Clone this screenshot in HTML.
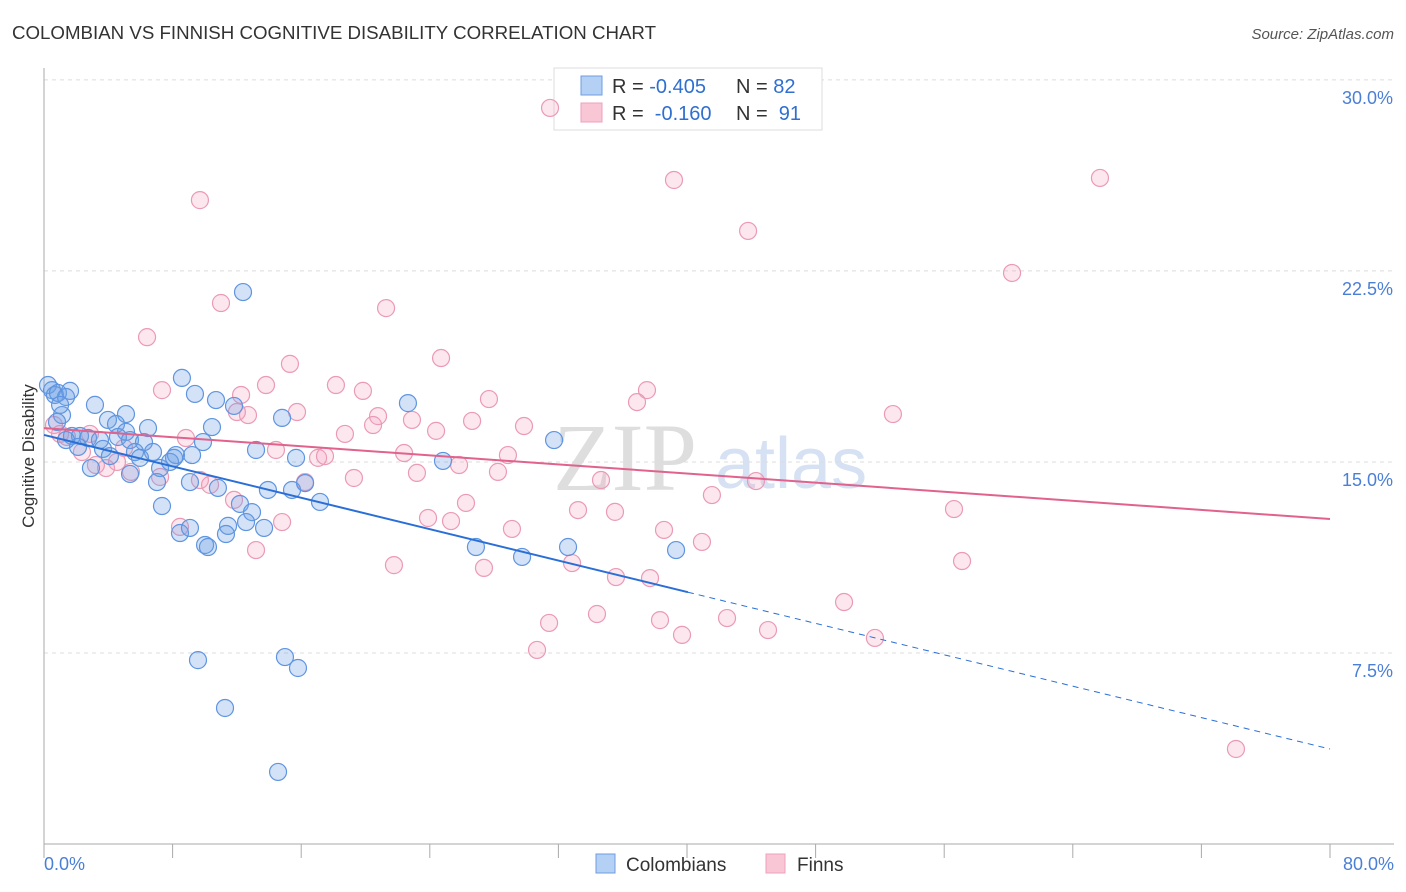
<!DOCTYPE html>
<html><head><meta charset="utf-8"><style>
body{margin:0;background:#fff;font-family:"Liberation Sans",sans-serif;}
#wrap{position:relative;width:1406px;height:892px;overflow:hidden;}
</style></head><body>
<div id="wrap">
<svg id="svg" width="1406" height="892"></svg>
</div>
<script>
const blueX=[0.25,0.5,0.68,0.87,1.62,1.37,1.12,0.81,3.17,5.1,3.98,4.48,5.1,6.47,1.74,2.24,2.74,3.48,4.6,5.35,6.22,2.12,3.67,5.66,6.78,8.21,2.92,5.35,7.22,7.03,9.08,10.82,7.34,8.58,9.39,10.7,11.82,9.89,10.45,13.19,14.81,15.68,13.93,15.43,17.17,12.19,12.94,12.57,11.45,13.69,10.02,10.2,8.46,9.08,11.32,12.38,22.64,24.82,31.73,26.87,29.74,32.6,39.32,9.58,14.99,15.8,11.26,14.56,16.24,7.84,5.97,1.0,1.37,4.1,8.09,9.21];
const blueY=[18.02,17.82,17.63,17.71,17.79,17.55,16.84,16.57,17.24,16.88,16.65,16.49,16.18,16.33,16.02,16.02,15.94,15.86,15.98,15.86,15.78,15.59,15.51,15.39,15.39,15.27,14.76,14.53,14.76,14.21,14.21,13.98,13.27,18.3,17.67,17.43,17.2,15.78,16.37,15.47,16.73,15.16,13.9,13.9,13.43,13.35,13.03,12.64,12.49,12.41,11.74,11.66,12.21,12.41,12.17,21.67,17.31,15.04,15.86,11.66,11.27,11.66,11.54,7.22,7.34,6.91,5.34,2.83,14.17,15.0,15.16,17.24,15.86,15.23,15.16,15.27];
const pinkX=[31.48,9.7,39.19,65.69,43.8,60.22,11.01,21.28,6.41,15.3,24.7,7.34,12.26,13.81,18.16,19.84,27.68,37.51,36.89,52.81,15.74,12.69,12.0,20.78,20.47,22.89,26.63,29.86,18.72,24.39,1.43,2.86,8.83,14.43,22.4,28.86,17.05,17.48,25.82,28.24,23.2,19.28,34.65,44.29,7.22,3.86,3.23,5.41,2.36,0.62,1.0,41.55,26.25,33.22,35.52,56.61,23.89,25.32,29.11,38.57,40.93,14.81,13.19,21.77,27.37,32.85,57.11,35.58,37.7,31.42,34.4,38.32,42.49,45.04,39.69,49.77,51.69,30.67,74.15,8.46,9.7,10.33,11.82,16.24,4.54,4.98];
const pinkY=[28.9,25.28,26.07,26.15,24.07,22.42,21.24,21.04,19.9,18.85,19.08,17.82,17.63,18.02,18.02,17.79,17.47,17.82,17.35,16.88,16.96,16.84,16.96,16.8,16.45,16.65,16.61,16.41,16.1,16.22,15.98,16.1,15.94,15.47,15.35,15.27,15.16,15.23,14.88,14.61,14.57,14.37,14.29,14.25,14.41,14.76,14.88,14.61,15.39,16.45,16.1,13.7,13.39,13.11,13.04,13.15,12.8,12.68,12.37,12.33,11.86,12.64,11.54,10.95,10.84,11.03,11.11,10.48,10.44,8.68,9.03,8.79,8.87,8.4,8.21,9.5,8.09,7.62,3.73,12.45,14.29,14.1,13.51,14.21,15.0,15.55];
const yTicks=[7.5,15,22.5,30];
const yTickLabels=["7.5%","15.0%","22.5%","30.0%"];
const blueTrend=[16.06,3.73], blueSolidEnd=40.06;
const pinkTrend=[16.33,12.76];

const X0=44,X1=1330,Y0=844;
const sx=v=>X0+(v/80)*(X1-X0);
const sy=v=>Y0-v*25.47;
const svg=document.getElementById('svg');
const NS='http://www.w3.org/2000/svg';
function mk(t,a,txt){const e=document.createElementNS(NS,t);for(const k in a)e.setAttribute(k,a[k]);if(txt!=null)e.textContent=txt;svg.appendChild(e);return e;}

let e;
e=mk('text',{x:12,y:39,'font-size':18,fill:'#333',textLength:644,lengthAdjust:'spacingAndGlyphs'},'COLOMBIAN VS FINNISH COGNITIVE DISABILITY CORRELATION CHART');


e=mk('text',{x:1394,y:39,'font-size':15,fill:'#555','text-anchor':'end','font-style':'italic'},'Source: ZipAtlas.com');



e=mk('text',{x:553,y:490,'font-size':96,fill:'#dedede','font-family':'Liberation Serif, serif'},'ZIP');


e=mk('text',{x:715,y:488,'font-size':72,fill:'#d6e2f3'},'atlas');



yTicks.forEach((t,i)=>{
  e=mk('line',{x1:X0,x2:1394,y1:sy(t),y2:sy(t),stroke:'#dcdcdc','stroke-dasharray':'4,4'});
  
  
  e=mk('text',{x:1393,y:sy(t)+24,'font-size':18,fill:'#4a7fd6','text-anchor':'end'},yTickLabels[i]);
  
  
});
e=mk('line',{x1:X0,x2:X0,y1:68,y2:Y0,stroke:'#aaa'});


e=mk('line',{x1:X0,x2:1394,y1:Y0,y2:Y0,stroke:'#aaa'});


for(let i=0;i<=10;i++){
  e=mk('line',{x1:sx(i*8),x2:sx(i*8),y1:Y0,y2:Y0+14,stroke:'#aaa'});
  
  
}
e=mk('text',{x:44,y:870,'font-size':18,fill:'#4a7fd6'},'0.0%');


e=mk('text',{x:1394,y:870,'font-size':18,fill:'#4a7fd6','text-anchor':'end'},'80.0%');


e=mk('text',{x:34,y:456,'font-size':17,fill:'#333','text-anchor':'middle',transform:'rotate(-90 34 456)'},'Cognitive Disability');



// legend
e=mk('rect',{x:554,y:68,width:268,height:62,fill:'#fff',stroke:'#ddd'});


e=mk('rect',{x:581,y:76,width:21,height:19,fill:'#b5d0f5',stroke:'#6d9de0'});


e=mk('rect',{x:581,y:103,width:21,height:19,fill:'#f9c6d6',stroke:'#eda0ba'});


[[93,'-0.405','82','R = ','N = '],[120,'-0.160','91','R =  ','N =  ']].forEach((r,i)=>{
  const t=mk('text',{x:612,y:r[0],'font-size':20,fill:'#333'});
  
  
  t.innerHTML=`<tspan>${r[3]}</tspan><tspan fill="#2f6fd0">${r[1]}</tspan><tspan x="736">${r[4]}</tspan><tspan fill="#2f6fd0">${r[2]}</tspan>`;
  t.setAttribute('xml:space','preserve');t.style.whiteSpace='pre';
});

pinkX.forEach((v,i)=>{
  e=mk('circle',{cx:sx(v),cy:sy(pinkY[i]),r:8.5,fill:'rgba(244,160,190,0.25)',stroke:'#eb9ab5','stroke-width':1.2});
  
  
});
blueX.forEach((v,i)=>{
  e=mk('circle',{cx:sx(v),cy:sy(blueY[i]),r:8.5,fill:'rgba(110,160,230,0.3)',stroke:'#5f95e0','stroke-width':1.2});
  
  
});
const bAt=x=>blueTrend[0]+(blueTrend[1]-blueTrend[0])*x/80;
e=mk('line',{x1:sx(0),y1:sy(bAt(0)),x2:sx(blueSolidEnd),y2:sy(bAt(blueSolidEnd)),stroke:'#2a6fd6','stroke-width':2});


e=mk('line',{x1:sx(blueSolidEnd),y1:sy(bAt(blueSolidEnd)),x2:sx(80),y2:sy(bAt(80)),stroke:'#2a6fd6','stroke-width':1,'stroke-dasharray':'6,5'});


e=mk('line',{x1:sx(0),y1:sy(pinkTrend[0]),x2:sx(80),y2:sy(pinkTrend[1]),stroke:'#e0628d','stroke-width':2});



e=mk('rect',{x:596,y:854,width:19,height:19,fill:'#b5d0f5',stroke:'#6d9de0'});


e=mk('text',{x:626,y:871,'font-size':19,fill:'#333'},'Colombians');


e=mk('rect',{x:766,y:854,width:19,height:19,fill:'#f9c6d6',stroke:'#eda0ba'});


e=mk('text',{x:797,y:871,'font-size':19,fill:'#333'},'Finns');


</script>
</body></html>
